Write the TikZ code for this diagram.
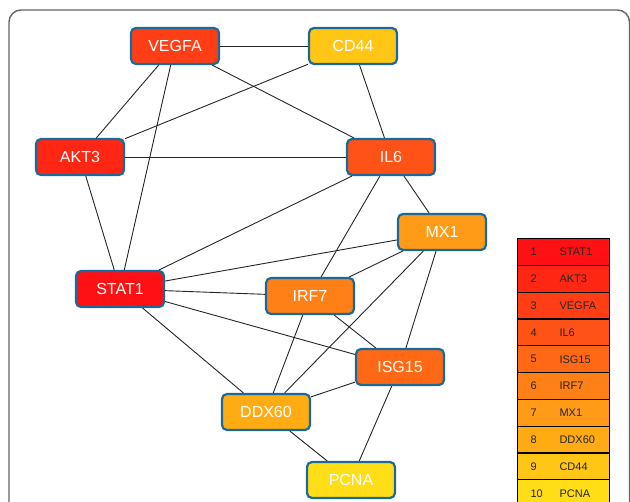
\documentclass[tikz,border=0pt]{standalone}
\usepackage{fontspec}
\setmainfont{Liberation Sans}
\usetikzlibrary{positioning}

\definecolor{rank1}{RGB}{255,16,20}
\definecolor{rank2}{RGB}{255,38,20}
\definecolor{rank3}{RGB}{255,62,22}
\definecolor{rank4}{RGB}{255,82,22}
\definecolor{rank5}{RGB}{255,105,22}
\definecolor{rank6}{RGB}{255,128,22}
\definecolor{rank7}{RGB}{255,155,22}
\definecolor{rank8}{RGB}{255,172,20}
\definecolor{rank9}{RGB}{255,198,22}
\definecolor{rank10}{RGB}{255,222,24}
\definecolor{genebd}{RGB}{25,105,155}
\definecolor{framegray}{RGB}{100,100,100}

\begin{document}
\begin{tikzpicture}[x=1pt,y=-1pt,
gene/.style={%
draw=genebd,
line width=2.2pt,
rounded corners=5pt,
minimum width=88pt,
minimum height=36pt,
text=white,
font=\fontsize{16}{18}\selectfont
},
link/.style={%
draw=black!85,
line width=0.9pt
},
rankrow/.style={%
draw=black,
line width=1.3pt,
minimum width=92pt,
minimum height=26.8pt,
anchor=north west
},
ranktext/.style={%
font=\fontsize{11}{13}\selectfont,
text=black!85,
anchor=west
},
]
\clip (0,0) rectangle (630,502);
%% frame
\draw[framegray,line width=1.4pt,rounded corners=12pt](9,10) rectangle (629.5,540);
%% genes
\node[gene,fill=rank3]at(175,46)(vegfa){VEGFA};
\node[gene,fill=rank9]at(353,46)(cd44){CD44};
\node[gene,fill=rank2]at(80,157)(akt3){AKT3};
\node[gene,fill=rank4]at(391,157)(il6){IL6};
\node[gene,fill=rank7]at(442,232)(mx1){MX1};
\node[gene,fill=rank1]at(120,289)(stat1){STAT1};
\node[gene,fill=rank6]at(310,296)(irf7){IRF7};
\node[gene,fill=rank5]at(400,367)(isg15){ISG15};
\node[gene,fill=rank8]at(266,412)(ddx60){DDX60};
\node[gene,fill=rank10]at(351,480)(pcna){PCNA};
%% links
\foreach \a/\b in {vegfa/cd44,vegfa/akt3,vegfa/stat1,vegfa/il6,
cd44/akt3,cd44/il6,akt3/il6,akt3/stat1,
il6/stat1,il6/irf7,il6/mx1,
stat1/mx1,stat1/irf7,stat1/isg15,stat1/ddx60,
mx1/irf7,mx1/ddx60,mx1/isg15,
irf7/isg15,irf7/ddx60,isg15/ddx60,isg15/pcna,ddx60/pcna}
\draw[link](\a)--(\b);
%% ranking
\foreach \i/\g in {1/STAT1,2/AKT3,3/VEGFA,4/IL6,5/ISG15,6/IRF7,7/MX1,8/DDX60,9/CD44,10/PCNA}{
\node[rankrow,fill=rank\i]at(517,{238+(\i-1)*26.8})(row\i){};
\node[ranktext]at([xshift=10pt]row\i.west){\i};
\node[ranktext]at([xshift=39pt]row\i.west){\g};
}
\end{tikzpicture}
\end{document}
